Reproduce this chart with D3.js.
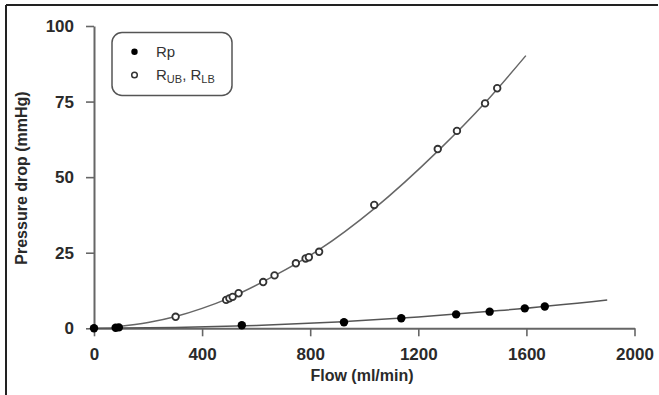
<!DOCTYPE html>
<html>
<head>
<meta charset="utf-8">
<script src="https://cdn.jsdelivr.net/npm/d3@7"></script>
<style>
  body { margin: 0; background: #fff; }
  svg { display: block; font-family: "Liberation Sans", Arial, sans-serif; }
</style>
</head>
<body>
<div id="chart"></div>
<script>
// measured points: open circles (R_UB, R_LB)
var ubFlow = [302, 489, 501, 513, 535, 626, 668, 747, 783, 795, 833, 1037, 1272, 1343, 1447, 1492];
var ubDrop = [3.8, 9.4, 9.9, 10.4, 11.6, 15.3, 17.5, 21.5, 23.1, 23.5, 25.3, 40.8, 59.3, 65.3, 74.4, 79.4];

// measured points: filled circles (Rp)
var rpFlow = [0, 80, 92, 547, 925, 1137, 1340, 1464, 1594, 1668];
var rpDrop = [0, 0.2, 0.3, 1.0, 2.0, 3.3, 4.6, 5.5, 6.6, 7.2];

// fitted curves
var ubFitFlow = [85, 200, 302, 400, 500, 668, 833, 1037, 1272, 1447, 1598];
var ubFitDrop = [0.5, 1.9, 3.9, 6.6, 10.0, 17.4, 26.0, 39.6, 58.6, 74.6, 90.2];
var rpFitFlow = [0, 300, 600, 900, 1200, 1500, 1899];
var rpFitDrop = [0, 0.25, 0.95, 2.1, 3.75, 5.85, 9.4];

var xTicks = [0, 400, 800, 1200, 1600, 2000];
var yTicks = [0, 25, 50, 75, 100];

var W = 659, H = 395;
var svg = d3.select("#chart").append("svg")
    .attr("width", W)
    .attr("height", H);

var x = d3.scaleLinear().domain([0, 2000]).range([94, 634.5]);
var y = d3.scaleLinear().domain([0, 100]).range([328.3, 26]);

// axes
var xAxis = svg.append("g")
    .attr("transform", "translate(0," + y(0) + ")")
    .call(d3.axisBottom(x).tickValues(xTicks).tickFormat(d3.format("d"))
        .tickSize(8).tickSizeOuter(0).tickPadding(12));
var yAxis = svg.append("g")
    .attr("transform", "translate(" + x(0) + ",0)")
    .call(d3.axisLeft(y).tickValues(yTicks).tickFormat(d3.format("d"))
        .tickSize(8).tickSizeOuter(0).tickPadding(12));

[xAxis, yAxis].forEach(function(a) {
    a.select(".domain").attr("stroke", "#666").attr("stroke-width", 2);
    a.selectAll(".tick line").attr("stroke", "#666").attr("stroke-width", 1.6);
    a.selectAll(".tick text")
        .attr("fill", "#2a2a2a")
        .style("font-size", "17px")
        .style("font-weight", "bold")
        .style("font-family", "'Liberation Sans', Arial, sans-serif");
});

// axis titles
svg.append("text")
    .attr("x", 362).attr("y", 381)
    .attr("text-anchor", "middle")
    .attr("fill", "#2a2a2a")
    .style("font-size", "16px").style("font-weight", "bold")
    .text("Flow (ml/min)");

svg.append("text")
    .attr("transform", "translate(27,178) rotate(-90)")
    .attr("text-anchor", "middle")
    .attr("fill", "#2a2a2a")
    .style("font-size", "16px").style("font-weight", "bold")
    .text("Pressure drop (mmHg)");

// fit curves
var line = d3.line()
    .x(function(d) { return x(d[0]); })
    .y(function(d) { return y(d[1]); })
    .curve(d3.curveMonotoneX);

svg.append("path")
    .datum(rpFitFlow.map(function(f, i) { return [f, rpFitDrop[i]]; }))
    .attr("d", line)
    .attr("fill", "none").attr("stroke", "#555").attr("stroke-width", 1.5);

svg.append("path")
    .datum(ubFitFlow.map(function(f, i) { return [f, ubFitDrop[i]]; }))
    .attr("d", line)
    .attr("fill", "none").attr("stroke", "#666").attr("stroke-width", 1.5);

// markers
svg.selectAll(".ub").data(ubFlow.map(function(f, i) { return [f, ubDrop[i]]; }))
    .enter().append("circle").attr("class", "ub")
    .attr("cx", function(d) { return x(d[0]); })
    .attr("cy", function(d) { return y(d[1]); })
    .attr("r", 3.3)
    .attr("fill", "#fff").attr("stroke", "#333").attr("stroke-width", 1.8);

svg.selectAll(".rp").data(rpFlow.map(function(f, i) { return [f, rpDrop[i]]; }))
    .enter().append("circle").attr("class", "rp")
    .attr("cx", function(d) { return x(d[0]); })
    .attr("cy", function(d) { return y(d[1]); })
    .attr("r", 4.2)
    .attr("fill", "#000");

// legend
var lg = svg.append("g");
lg.append("rect")
    .attr("x", 112).attr("y", 32.5).attr("width", 120).attr("height", 63)
    .attr("rx", 10).attr("ry", 10)
    .attr("fill", "#fff").attr("stroke", "#555").attr("stroke-width", 1.5);
lg.append("circle").attr("cx", 134.5).attr("cy", 51.7).attr("r", 3.2).attr("fill", "#000");
lg.append("circle").attr("cx", 134.5).attr("cy", 75).attr("r", 2.8)
    .attr("fill", "#fff").attr("stroke", "#333").attr("stroke-width", 1.5);

lg.append("text").attr("x", 156).attr("y", 57)
    .attr("fill", "#333").style("font-size", "15px")
    .text("Rp");

var t2 = lg.append("text").attr("x", 156).attr("y", 80)
    .attr("fill", "#333").style("font-size", "15px");
t2.append("tspan").text("R");
t2.append("tspan").attr("dy", 3).style("font-size", "11px").text("UB");
t2.append("tspan").attr("dy", -3).text(", R");
t2.append("tspan").attr("dy", 3).style("font-size", "11px").text("LB");

// the source image is cropped on the right: white strip cuts the last label
svg.append("rect").attr("x", 657).attr("y", 6).attr("width", 2).attr("height", H - 6)
    .attr("fill", "#fff");

// frame (only top and left edges are visible)
svg.append("line").attr("x1", 6).attr("y1", 5).attr("x2", 658).attr("y2", 5)
    .attr("stroke", "#222").attr("stroke-width", 2);
svg.append("line").attr("x1", 6).attr("y1", 5).attr("x2", 6).attr("y2", H)
    .attr("stroke", "#222").attr("stroke-width", 2);
</script>
</body>
</html>
